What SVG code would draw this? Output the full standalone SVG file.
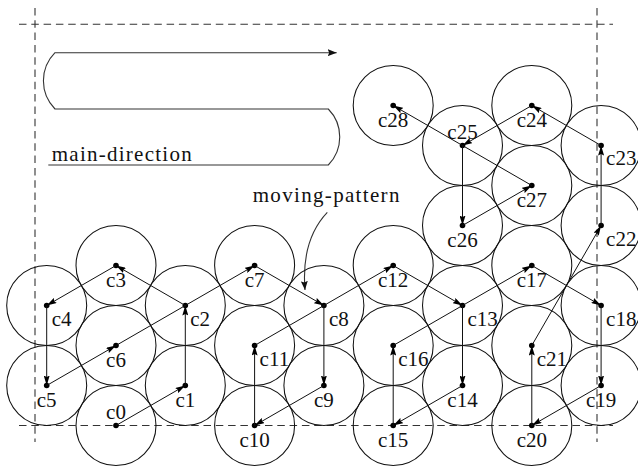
<svg xmlns="http://www.w3.org/2000/svg" width="638" height="467" viewBox="0 0 638 467">
  <defs>
    <marker id="ah" viewBox="0 0 10 6" refX="10" refY="3" markerWidth="10" markerHeight="6" markerUnits="userSpaceOnUse" orient="auto">
      <path d="M0,0 L10,3 L0,6 L1.5,3 z" fill="#000"/>
    </marker>
    <marker id="ahBig" viewBox="0 0 9 7" refX="9" refY="3.5" markerWidth="9" markerHeight="7" markerUnits="userSpaceOnUse" orient="auto">
      <path d="M0,0 L9,3.5 L0,7 L1.5,3.5 z" fill="#111"/>
    </marker>
    <circle id="disc" r="40" fill="none" stroke="#111" stroke-width="1.05"/>
    <circle id="pos" r="2.8" fill="#000"/>
  </defs>

  <rect x="0" y="0" width="638" height="467" fill="#ffffff"/>

  <!-- area boundary -->
  <g id="boundary" fill="none" stroke="#333" stroke-width="1.1" stroke-dasharray="7.5 4.8">
    <line x1="19" y1="24.3" x2="613" y2="24.3"/>
    <line x1="19" y1="425.5" x2="613" y2="425.5"/>
    <line x1="35" y1="8" x2="35" y2="442"/>
    <line x1="597" y1="8" x2="597" y2="442"/>
  </g>

  <!-- boustrophedon sweep with label -->
  <g id="main-direction">
    <path d="M48.3,165 L328.3,165 A40,40 0 0 0 328.3,109 L55,109 A40,40 0 0 1 55,52.7 L336.7,52.7" fill="none" stroke="#333" stroke-width="1.1" marker-end="url(#ahBig)"/>
    <text x="51.7" y="160.7" style="font-family: 'Liberation Serif', serif; font-size: 21px" fill="#111" textLength="140" lengthAdjust="spacing">main-direction</text>
  </g>

  <g id="moving-pattern">
    <text x="252.7" y="201.7" style="font-family: 'Liberation Serif', serif; font-size: 21px" fill="#111" textLength="146.7" lengthAdjust="spacing">moving-pattern</text>
    <path d="M327.3,212.3 Q301,240 305,290" fill="none" stroke="#333" stroke-width="1.1" marker-end="url(#ahBig)"/>
  </g>

  <!-- sensor nodes: coverage disc, position, name -->
  <g id="nodes" fill="#111">
  <g id="c0"><use href="#disc" x="116" y="425.5"/><use href="#pos" x="116" y="425.5"/><text x="116" y="418.5" text-anchor="middle" style="font-family: 'Liberation Serif', serif; font-size: 21px">c0</text></g>
  <g id="c1"><use href="#disc" x="185.3" y="385.5"/><use href="#pos" x="185.3" y="385.5"/><text x="185.3" y="406.5" text-anchor="middle" style="font-family: 'Liberation Serif', serif; font-size: 21px">c1</text></g>
  <g id="c2"><use href="#disc" x="185.3" y="305.5"/><use href="#pos" x="185.3" y="305.5"/><text x="190.3" y="325.5" style="font-family: 'Liberation Serif', serif; font-size: 21px">c2</text></g>
  <g id="c3"><use href="#disc" x="116" y="265.5"/><use href="#pos" x="116" y="265.5"/><text x="116" y="286.5" text-anchor="middle" style="font-family: 'Liberation Serif', serif; font-size: 21px">c3</text></g>
  <g id="c4"><use href="#disc" x="46.7" y="305.5"/><use href="#pos" x="46.7" y="305.5"/><text x="51.7" y="325.5" style="font-family: 'Liberation Serif', serif; font-size: 21px">c4</text></g>
  <g id="c5"><use href="#disc" x="46.7" y="385.5"/><use href="#pos" x="46.7" y="385.5"/><text x="46.7" y="406.5" text-anchor="middle" style="font-family: 'Liberation Serif', serif; font-size: 21px">c5</text></g>
  <g id="c6"><use href="#disc" x="116" y="345.5"/><use href="#pos" x="116" y="345.5"/><text x="116" y="366.5" text-anchor="middle" style="font-family: 'Liberation Serif', serif; font-size: 21px">c6</text></g>
  <g id="c7"><use href="#disc" x="254.6" y="265.5"/><use href="#pos" x="254.6" y="265.5"/><text x="254.6" y="286.5" text-anchor="middle" style="font-family: 'Liberation Serif', serif; font-size: 21px">c7</text></g>
  <g id="c8"><use href="#disc" x="323.9" y="305.5"/><use href="#pos" x="323.9" y="305.5"/><text x="328.9" y="325.5" style="font-family: 'Liberation Serif', serif; font-size: 21px">c8</text></g>
  <g id="c9"><use href="#disc" x="323.9" y="385.5"/><use href="#pos" x="323.9" y="385.5"/><text x="323.9" y="406.5" text-anchor="middle" style="font-family: 'Liberation Serif', serif; font-size: 21px">c9</text></g>
  <g id="c10"><use href="#disc" x="254.6" y="425.5"/><use href="#pos" x="254.6" y="425.5"/><text x="254.6" y="446.5" text-anchor="middle" style="font-family: 'Liberation Serif', serif; font-size: 21px">c10</text></g>
  <g id="c11"><use href="#disc" x="254.6" y="345.5"/><use href="#pos" x="254.6" y="345.5"/><text x="259.6" y="365.5" style="font-family: 'Liberation Serif', serif; font-size: 21px">c11</text></g>
  <g id="c12"><use href="#disc" x="393.2" y="265.5"/><use href="#pos" x="393.2" y="265.5"/><text x="393.2" y="286.5" text-anchor="middle" style="font-family: 'Liberation Serif', serif; font-size: 21px">c12</text></g>
  <g id="c13"><use href="#disc" x="462.5" y="305.5"/><use href="#pos" x="462.5" y="305.5"/><text x="467.5" y="325.5" style="font-family: 'Liberation Serif', serif; font-size: 21px">c13</text></g>
  <g id="c14"><use href="#disc" x="462.5" y="385.5"/><use href="#pos" x="462.5" y="385.5"/><text x="462.5" y="406.5" text-anchor="middle" style="font-family: 'Liberation Serif', serif; font-size: 21px">c14</text></g>
  <g id="c15"><use href="#disc" x="393.2" y="425.5"/><use href="#pos" x="393.2" y="425.5"/><text x="393.2" y="446.5" text-anchor="middle" style="font-family: 'Liberation Serif', serif; font-size: 21px">c15</text></g>
  <g id="c16"><use href="#disc" x="393.2" y="345.5"/><use href="#pos" x="393.2" y="345.5"/><text x="398.2" y="365.5" style="font-family: 'Liberation Serif', serif; font-size: 21px">c16</text></g>
  <g id="c17"><use href="#disc" x="531.8" y="265.5"/><use href="#pos" x="531.8" y="265.5"/><text x="531.8" y="286.5" text-anchor="middle" style="font-family: 'Liberation Serif', serif; font-size: 21px">c17</text></g>
  <g id="c18"><use href="#disc" x="601.1" y="305.5"/><use href="#pos" x="601.1" y="305.5"/><text x="606.1" y="325.5" style="font-family: 'Liberation Serif', serif; font-size: 21px">c18</text></g>
  <g id="c19"><use href="#disc" x="601.1" y="385.5"/><use href="#pos" x="601.1" y="385.5"/><text x="601.1" y="406.5" text-anchor="middle" style="font-family: 'Liberation Serif', serif; font-size: 21px">c19</text></g>
  <g id="c20"><use href="#disc" x="531.8" y="425.5"/><use href="#pos" x="531.8" y="425.5"/><text x="531.8" y="446.5" text-anchor="middle" style="font-family: 'Liberation Serif', serif; font-size: 21px">c20</text></g>
  <g id="c21"><use href="#disc" x="531.8" y="345.5"/><use href="#pos" x="531.8" y="345.5"/><text x="536.8" y="365.5" style="font-family: 'Liberation Serif', serif; font-size: 21px">c21</text></g>
  <g id="c22"><use href="#disc" x="601.1" y="225.5"/><use href="#pos" x="601.1" y="225.5"/><text x="606.1" y="245.5" style="font-family: 'Liberation Serif', serif; font-size: 21px">c22</text></g>
  <g id="c23"><use href="#disc" x="601.1" y="145.5"/><use href="#pos" x="601.1" y="145.5"/><text x="606.1" y="165" style="font-family: 'Liberation Serif', serif; font-size: 21px">c23</text></g>
  <g id="c24"><use href="#disc" x="531.8" y="105.5"/><use href="#pos" x="531.8" y="105.5"/><text x="531.8" y="126.5" text-anchor="middle" style="font-family: 'Liberation Serif', serif; font-size: 21px">c24</text></g>
  <g id="c25"><use href="#disc" x="462.5" y="145.5"/><use href="#pos" x="462.5" y="145.5"/><text x="462.5" y="138.5" text-anchor="middle" style="font-family: 'Liberation Serif', serif; font-size: 21px">c25</text></g>
  <g id="c26"><use href="#disc" x="462.5" y="225.5"/><use href="#pos" x="462.5" y="225.5"/><text x="462.5" y="246.5" text-anchor="middle" style="font-family: 'Liberation Serif', serif; font-size: 21px">c26</text></g>
  <g id="c27"><use href="#disc" x="531.8" y="185.5"/><use href="#pos" x="531.8" y="185.5"/><text x="531.8" y="206.5" text-anchor="middle" style="font-family: 'Liberation Serif', serif; font-size: 21px">c27</text></g>
  <g id="c28"><use href="#disc" x="393.2" y="105.5"/><use href="#pos" x="393.2" y="105.5"/><text x="393.2" y="126.5" text-anchor="middle" style="font-family: 'Liberation Serif', serif; font-size: 21px">c28</text></g>
  </g>

  <!-- visiting order c0 -> c28 -->
  <g id="connectors" fill="none" stroke="#111" stroke-width="1" marker-end="url(#ah)">
    <line x1="116" y1="425.5" x2="185.3" y2="385.5"/>
    <line x1="185.3" y1="385.5" x2="185.3" y2="305.5"/>
    <line x1="185.3" y1="305.5" x2="116" y2="265.5"/>
    <line x1="116" y1="265.5" x2="46.7" y2="305.5"/>
    <line x1="46.7" y1="305.5" x2="46.7" y2="385.5"/>
    <line x1="46.7" y1="385.5" x2="116" y2="345.5"/>
    <line x1="116" y1="345.5" x2="254.6" y2="265.5"/>
    <line x1="254.6" y1="265.5" x2="323.9" y2="305.5"/>
    <line x1="323.9" y1="305.5" x2="323.9" y2="385.5"/>
    <line x1="323.9" y1="385.5" x2="254.6" y2="425.5"/>
    <line x1="254.6" y1="425.5" x2="254.6" y2="345.5"/>
    <line x1="254.6" y1="345.5" x2="393.2" y2="265.5"/>
    <line x1="393.2" y1="265.5" x2="462.5" y2="305.5"/>
    <line x1="462.5" y1="305.5" x2="462.5" y2="385.5"/>
    <line x1="462.5" y1="385.5" x2="393.2" y2="425.5"/>
    <line x1="393.2" y1="425.5" x2="393.2" y2="345.5"/>
    <line x1="393.2" y1="345.5" x2="531.8" y2="265.5"/>
    <line x1="531.8" y1="265.5" x2="601.1" y2="305.5"/>
    <line x1="601.1" y1="305.5" x2="601.1" y2="385.5"/>
    <line x1="601.1" y1="385.5" x2="531.8" y2="425.5"/>
    <line x1="531.8" y1="425.5" x2="531.8" y2="345.5"/>
    <line x1="531.8" y1="345.5" x2="601.1" y2="225.5"/>
    <line x1="601.1" y1="225.5" x2="601.1" y2="145.5"/>
    <line x1="601.1" y1="145.5" x2="531.8" y2="105.5"/>
    <line x1="531.8" y1="105.5" x2="462.5" y2="145.5"/>
    <line x1="462.5" y1="145.5" x2="462.5" y2="225.5"/>
    <line x1="462.5" y1="225.5" x2="531.8" y2="185.5"/>
    <line x1="531.8" y1="185.5" x2="393.2" y2="105.5"/>
  </g>
</svg>
